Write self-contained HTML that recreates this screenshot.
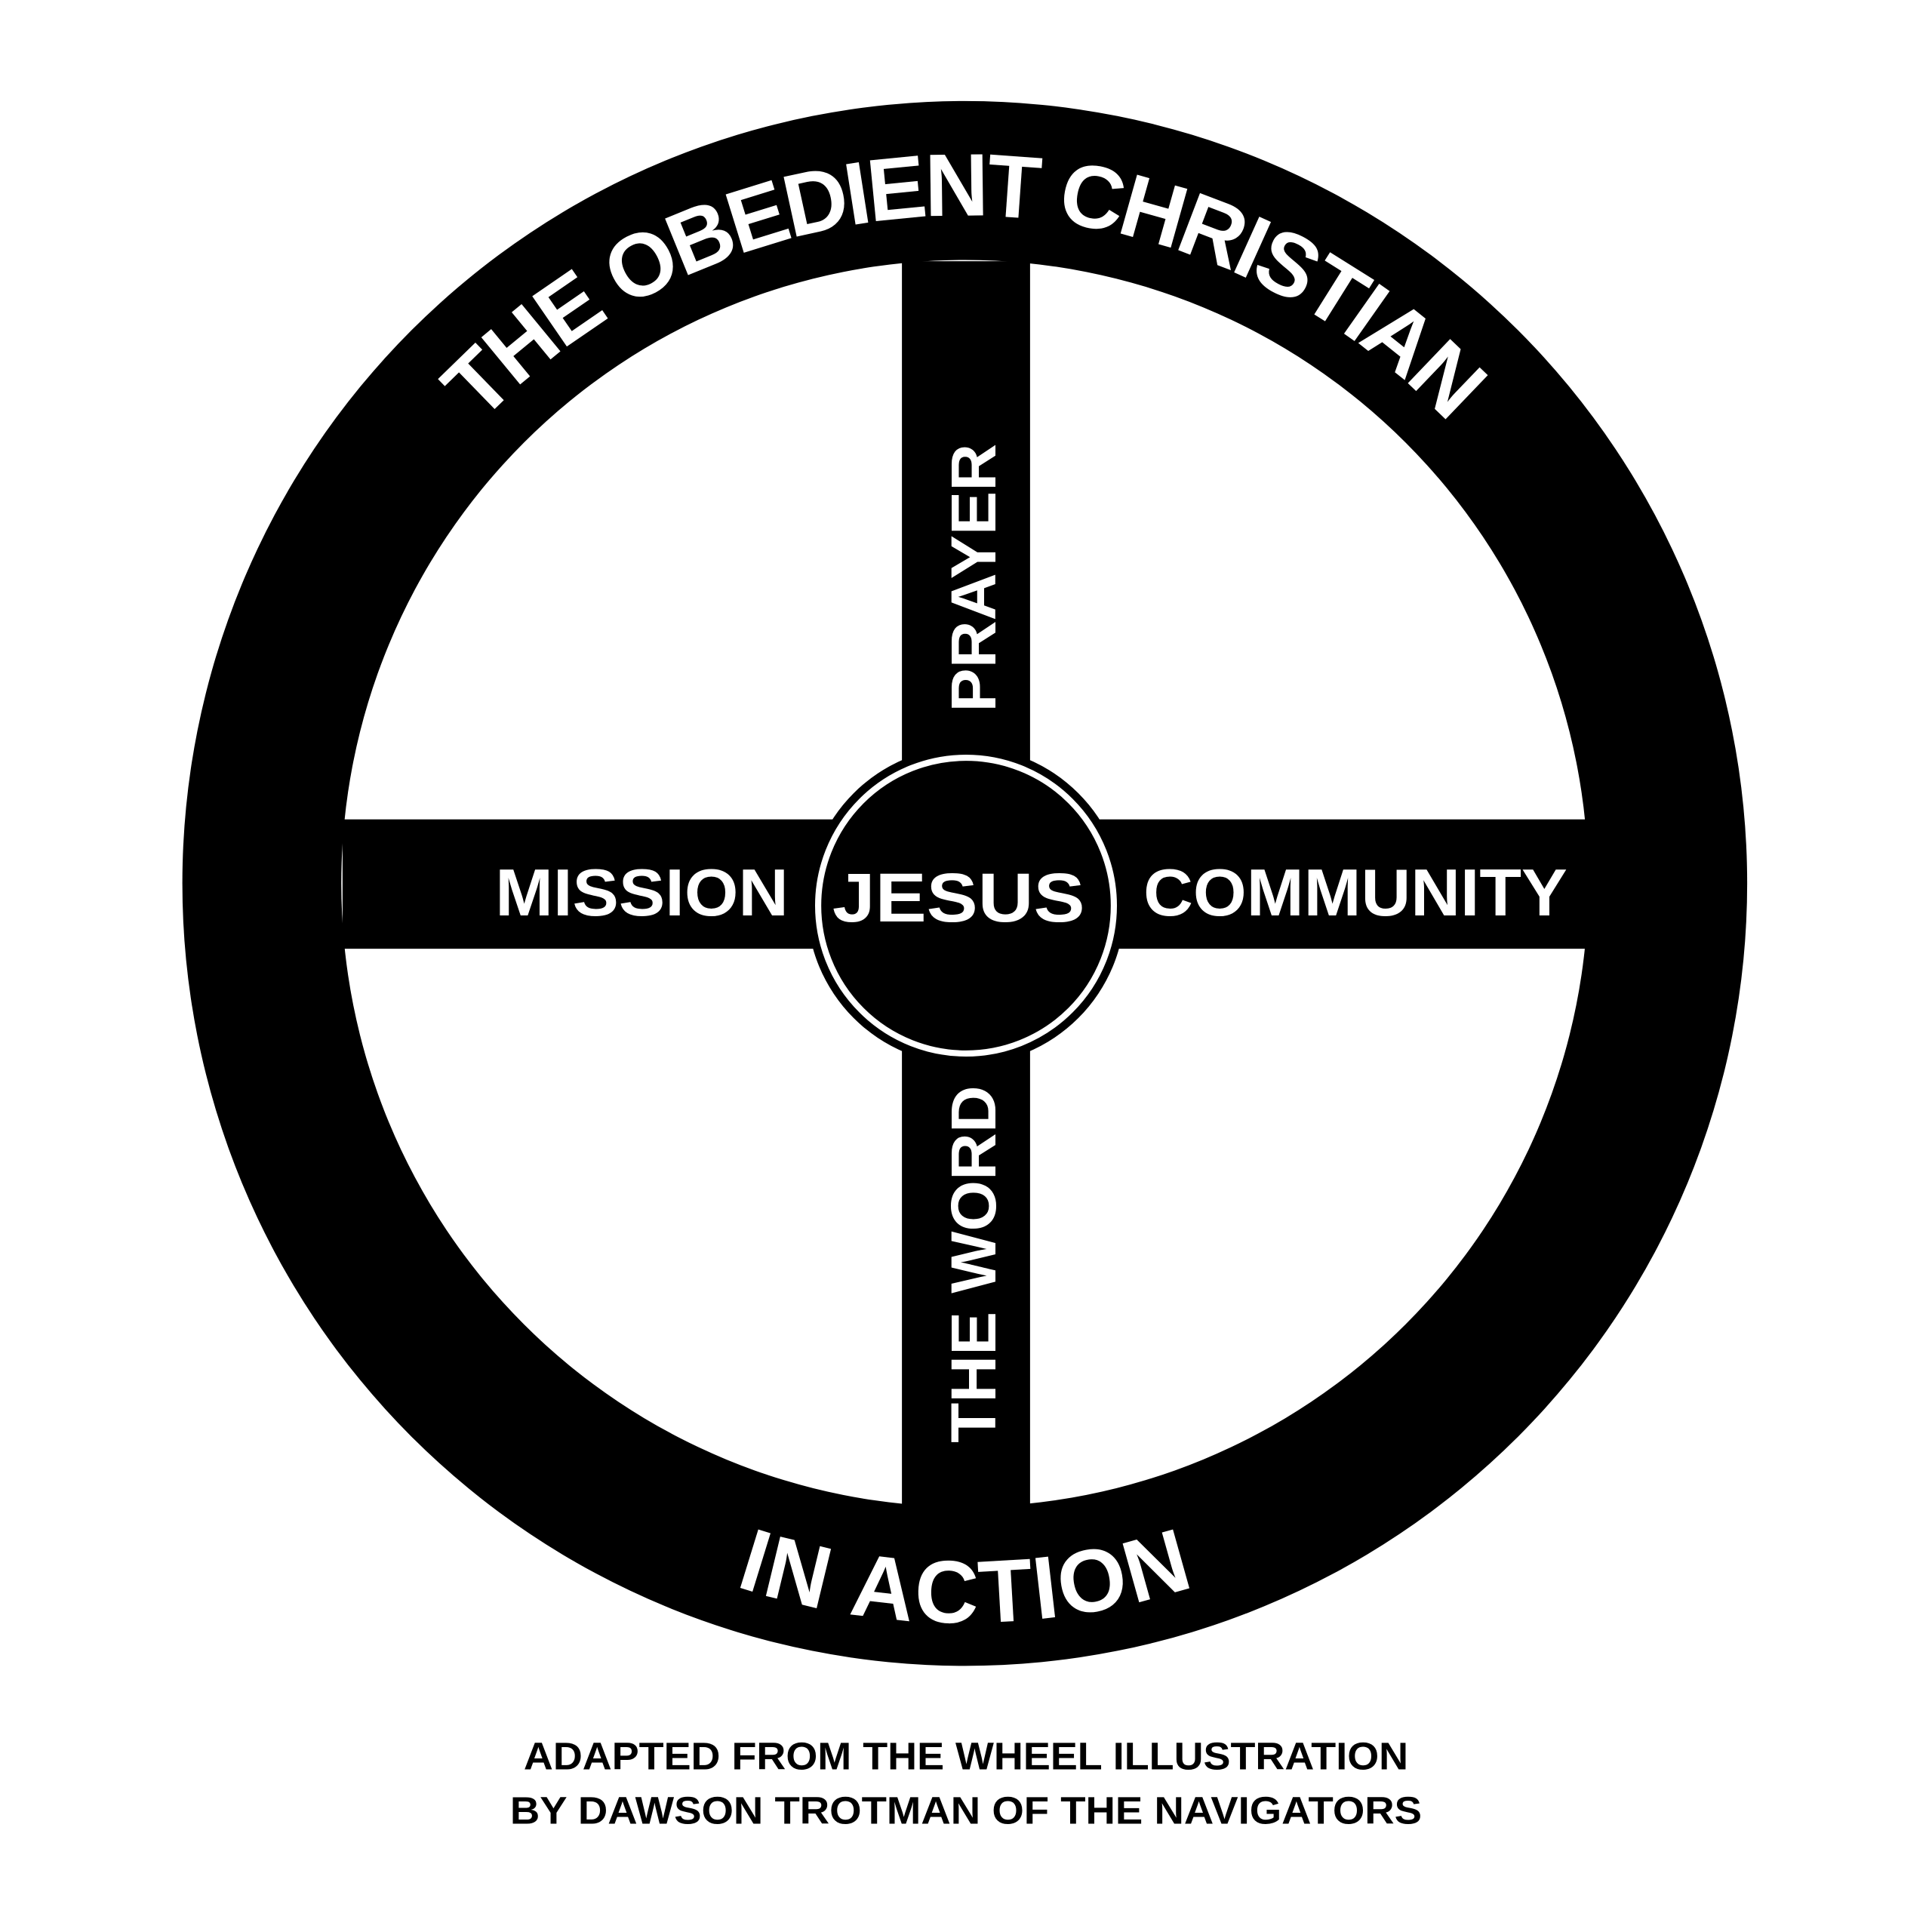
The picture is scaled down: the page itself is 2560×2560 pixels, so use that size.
<!DOCTYPE html>
<html><head><style>html,body{margin:0;padding:0;background:#fff}svg{display:block}</style></head>
<body>
<svg width="2560" height="2560" viewBox="0 0 1568 1568" xmlns="http://www.w3.org/2000/svg" font-family="'Liberation Sans', sans-serif" font-weight="bold">
<rect width="1568" height="1568" fill="#fff"/>
<circle cx="783" cy="717" r="635" fill="#000"/>
<circle cx="783" cy="717" r="506" fill="#fff"/>
<rect x="732" y="212" width="104" height="1012" fill="#000"/>
<rect x="278" y="665" width="1012" height="105" fill="#000"/>
<circle cx="784" cy="735" r="129" fill="#000"/>
<circle cx="784" cy="735" r="120" fill="none" stroke="#fff" stroke-width="5"/>
<defs>
<path id="top" d="M 241 717 A 542 542 0 0 1 1325 717"/>
<path id="bot" d="M 183 717 A 600 600 0 0 0 1383 717"/>
</defs>
<text font-size="72" fill="#fff" text-anchor="middle"><textPath href="#top" startOffset="50%" textLength="880" lengthAdjust="spacing">THE OBEDIENT CHRISTIAN</textPath></text>
<text font-size="72" fill="#fff" text-anchor="middle"><textPath href="#bot" startOffset="50%" textLength="380" lengthAdjust="spacing">IN ACTION</textPath></text>
<text x="521" y="743" font-size="54" fill="#fff" text-anchor="middle" textLength="238" lengthAdjust="spacingAndGlyphs">MISSION</text>
<text x="778" y="748" font-size="56" fill="#fff" text-anchor="middle" textLength="205" lengthAdjust="spacingAndGlyphs">JESUS</text>
<text x="1100" y="743" font-size="54" fill="#fff" text-anchor="middle" textLength="344" lengthAdjust="spacingAndGlyphs">COMMUNITY</text>
<text transform="translate(808,469) rotate(-90)" font-size="52" fill="#fff" text-anchor="middle" textLength="218" lengthAdjust="spacingAndGlyphs">PRAYER</text>
<text transform="translate(808,1026) rotate(-90)" font-size="52" fill="#fff" text-anchor="middle" textLength="290" lengthAdjust="spacingAndGlyphs">THE WORD</text>
<text x="784" y="1436" font-size="31" fill="#000" text-anchor="middle" textLength="718" lengthAdjust="spacingAndGlyphs">ADAPTED FROM THE WHEEL ILLUSTRATION</text>
<text x="784" y="1480" font-size="31" fill="#000" text-anchor="middle" textLength="740" lengthAdjust="spacingAndGlyphs">BY DAWSON TROTMAN OF THE NAVIGATORS</text>
</svg>
</body></html>
